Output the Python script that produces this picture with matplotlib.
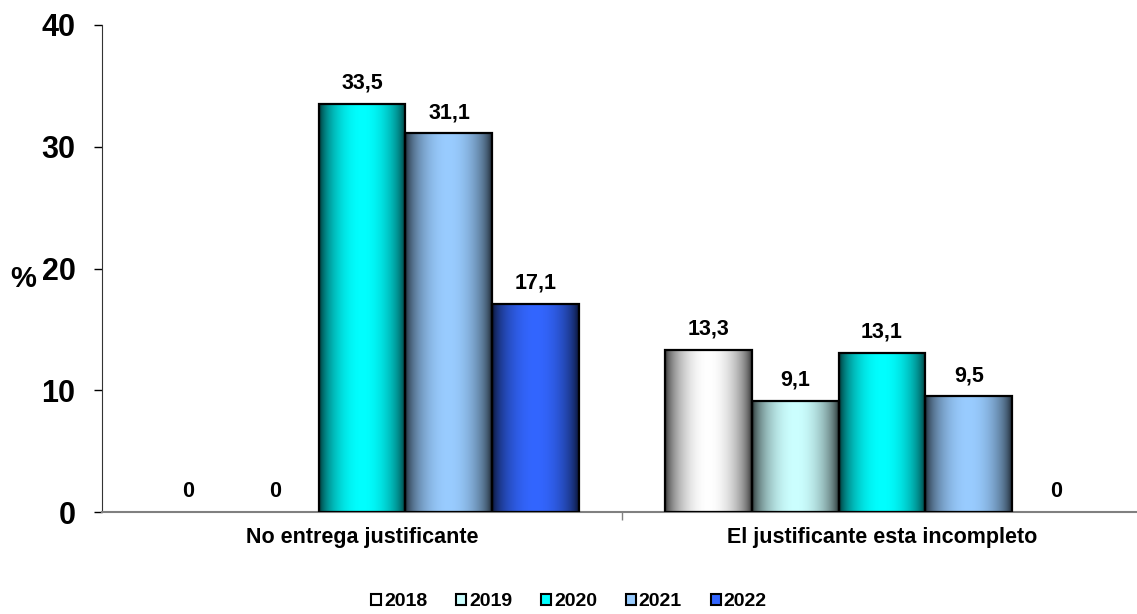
import numpy as np
import matplotlib
matplotlib.use("Agg")
import matplotlib.pyplot as plt
from matplotlib.patches import Patch

plt.rcParams['font.family'] = ['Liberation Sans', 'DejaVu Sans']
plt.rcParams['font.weight'] = 'bold'

categories = ["No entrega justificante", "El justificante esta incompleto"]
years = ["2018", "2019", "2020", "2021", "2022"]
values = {
    "2018": [0, 13.3],
    "2019": [0, 9.1],
    "2020": [33.5, 13.1],
    "2021": [31.1, 9.5],
    "2022": [17.1, 0],
}
labels = {
    "2018": ["0", "13,3"],
    "2019": ["0", "9,1"],
    "2020": ["33,5", "13,1"],
    "2021": ["31,1", "9,5"],
    "2022": ["17,1", "0"],
}
light_colors = {
    "2018": "#FFFFFF",
    "2019": "#CCFFFF",
    "2020": "#00FFFF",
    "2021": "#99CCFF",
    "2022": "#3366FF",
}

def gradient_img(color, n=200):
    c = np.array(matplotlib.colors.to_rgb(color))
    t = np.linspace(0, 1, n)
    prof = np.sin(np.pi * t) ** 0.55
    dark = c * 0.12
    img = dark[None, :] + (c - dark)[None, :] * prof[:, None]
    return img[None, :, :]

fig = plt.figure(figsize=(11.37, 6.14), dpi=100)
ax = fig.add_axes([102 / 1137, 102 / 614, 1040 / 1137, 487 / 614])

x = np.arange(len(categories))
width = 0.1673
offsets = (np.arange(len(years)) - 2) * width

for i, yr in enumerate(years):
    lw = [1.6 if v > 0 else 0 for v in values[yr]]
    bars = ax.bar(x + offsets[i], values[yr], width, color='none',
                  edgecolor='black', linewidth=lw, zorder=3)
    for b, v, lab in zip(bars, values[yr], labels[yr]):
        if v > 0:
            im = ax.imshow(gradient_img(light_colors[yr]), aspect='auto',
                           extent=[b.get_x(), b.get_x() + b.get_width(), 0, v],
                           zorder=2, interpolation='bilinear')
            im.set_clip_path(b)
        ax.annotate(lab, (b.get_x() + b.get_width() / 2, v), xytext=(0, 11),
                    textcoords='offset points', ha='center', va='baseline',
                    fontsize=15.5, fontweight='bold')

ax.set_xlim(-0.5, 1.5)
ax.set_ylim(0, 40)
ax.set_yticks([0, 10, 20, 30, 40])
ax.tick_params(axis='y', labelsize=22, length=6, width=1, pad=13)
ax.set_xticks(x)
ax.set_xticklabels(categories, fontsize=15.5, fontweight='bold')
ax.set_xticks([0.5], minor=True)
ax.tick_params(axis='x', which='major', length=0, pad=11)
ax.tick_params(axis='x', which='minor', length=6, color='#808080', width=1)
for s in ['top', 'right']:
    ax.spines[s].set_visible(False)
ax.spines['bottom'].set_color('#808080')
ax.spines['bottom'].set_linewidth(1.5)
ax.spines['left'].set_color('#333333')

fig.text(10 / 1137, 1 - 279 / 614, "%", fontsize=21, fontweight='bold',
         ha='left', va='center')

handles = [Patch(facecolor=light_colors[yr], edgecolor='black', linewidth=1.5)
           for yr in years]
fig.legend(handles, years, loc='center', bbox_to_anchor=(569 / 1137, 1 - 602 / 614),
           ncol=5, frameon=False, fontsize=14, handlelength=0.5, handleheight=0.5,
           handletextpad=0.15, columnspacing=1.5)

fig.savefig("out.png", dpi=100)
